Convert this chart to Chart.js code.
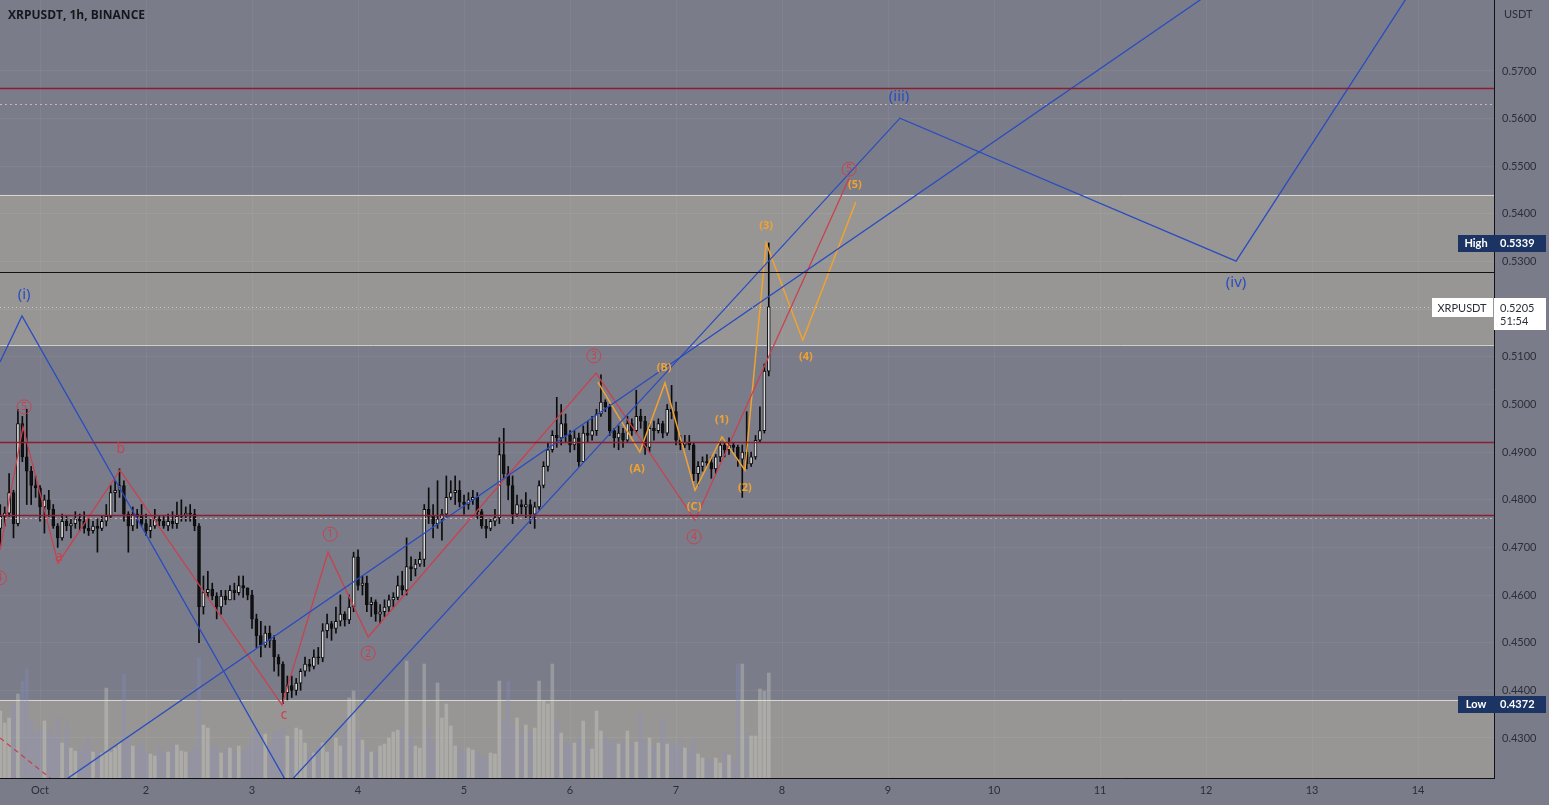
<!DOCTYPE html>
<html>
<head>
<meta charset="utf-8">
<script src="https://cdn.jsdelivr.net/npm/chart.js@4.4.0/dist/chart.umd.min.js"></script>
<style>
  html, body { margin: 0; padding: 0; background: #7a7d89; overflow: hidden; }
  #wrap { width: 1549px; height: 805px; position: relative; }
</style>
</head>
<body>
<div id="wrap"><canvas id="chart"></canvas></div>
<script>
// ********************* candles (1h, hours counted from Oct 1 00:00) ***********************
const firstHour = -9;
const firstOpen = 0.4740;

const closes = [
  0.4765, 0.4772, 0.4815, 0.4750, 0.4960, 0.4890, 0.4860, 0.4830, 0.4825,
  0.4785, 0.4800, 0.4780, 0.4745, 0.4720, 0.4755, 0.4745, 0.4750, 0.4760,
  0.4755, 0.4740, 0.4735, 0.4745, 0.4740, 0.4755, 0.4765, 0.4815, 0.4820,
  0.4830, 0.4770, 0.4745, 0.4770, 0.4765, 0.4750, 0.4735, 0.4745, 0.4760,
  0.4755, 0.4745, 0.4755, 0.4750, 0.4765, 0.4768, 0.4772, 0.4770, 0.4745,
  0.4575, 0.4605, 0.4612, 0.4598, 0.4575, 0.4598, 0.4590, 0.4610, 0.4605,
  0.4620, 0.4615, 0.4600, 0.4550, 0.4515, 0.4495, 0.4520, 0.4505, 0.4470,
  0.4455, 0.4395, 0.4410, 0.4400, 0.4415, 0.4440, 0.4455, 0.4450, 0.4470,
  0.4468, 0.4525, 0.4540, 0.4530, 0.4545, 0.4560, 0.4548, 0.4575, 0.4680,
  0.4620, 0.4625, 0.4580, 0.4585, 0.4560, 0.4565, 0.4575, 0.4590, 0.4595,
  0.4620, 0.4610, 0.4660, 0.4655, 0.4665, 0.4675, 0.4780, 0.4765, 0.4750,
  0.4760, 0.4770, 0.4805, 0.4815, 0.4820, 0.4795, 0.4790, 0.4800, 0.4805,
  0.4775, 0.4745, 0.4740, 0.4755, 0.4762, 0.4895, 0.4855, 0.4830, 0.4770,
  0.4790, 0.4785, 0.4790, 0.4770, 0.4785, 0.4830, 0.4870, 0.4905, 0.4935,
  0.4930, 0.4960, 0.4935, 0.4915, 0.4930, 0.4880, 0.4940, 0.4935, 0.4945,
  0.4980, 0.5005, 0.4995, 0.4945, 0.4930, 0.4940, 0.4925, 0.4960, 0.4945,
  0.4975, 0.4965, 0.4910, 0.4950, 0.4945, 0.4960, 0.4940, 0.4990, 0.4985,
  0.4925, 0.4915, 0.4920, 0.4915, 0.4855, 0.4870, 0.4880, 0.4878, 0.4865,
  0.4890, 0.4915, 0.4905, 0.4915, 0.4910, 0.4885, 0.4900, 0.4875, 0.4890,
  0.4925, 0.4945, 0.5070, 0.5205
];

const highs = [
  0.4790, 0.4785, 0.4855, 0.4820, 0.4990, 0.4975, 0.4990, 0.4870, 0.4850,
  0.4830, 0.4810, 0.4820, 0.4790, 0.4750, 0.4770, 0.4765, 0.4760, 0.4775,
  0.4770, 0.4775, 0.4760, 0.4755, 0.4760, 0.4765, 0.4790, 0.4830, 0.4840,
  0.4865, 0.4840, 0.4775, 0.4785, 0.4780, 0.4790, 0.4770, 0.4760, 0.4780,
  0.4765, 0.4765, 0.4770, 0.4775, 0.4795, 0.4800, 0.4785, 0.4790, 0.4780,
  0.4750, 0.4640, 0.4650, 0.4625, 0.4605, 0.4610, 0.4610, 0.4620, 0.4625,
  0.4640, 0.4640, 0.4615, 0.4610, 0.4560, 0.4545, 0.4535, 0.4535, 0.4515,
  0.4475, 0.4460, 0.4430, 0.4430, 0.4425, 0.4445, 0.4470, 0.4465, 0.4485,
  0.4490, 0.4540, 0.4560, 0.4545, 0.4575, 0.4600, 0.4565, 0.4600, 0.4690,
  0.4695, 0.4640, 0.4640, 0.4595, 0.4590, 0.4580, 0.4590, 0.4600, 0.4605,
  0.4640, 0.4650, 0.4720, 0.4680, 0.4675, 0.4690, 0.4790, 0.4825, 0.4790,
  0.4840, 0.4780, 0.4850, 0.4840, 0.4850, 0.4840, 0.4810, 0.4815, 0.4820,
  0.4815, 0.4780, 0.4760, 0.4760, 0.4780, 0.4930, 0.4950, 0.4870, 0.4850,
  0.4810, 0.4800, 0.4815, 0.4800, 0.4795, 0.4840, 0.4880, 0.4920, 0.4945,
  0.5015, 0.5000, 0.4980, 0.4945, 0.4945, 0.4940, 0.4955, 0.4965, 0.4975,
  0.4990, 0.5062, 0.5010, 0.5000, 0.4950, 0.4955, 0.4950, 0.4975, 0.4970,
  0.5030, 0.4990, 0.4975, 0.4960, 0.4965, 0.4970, 0.4965, 0.5000, 0.5040,
  0.5005, 0.4935, 0.4935, 0.4935, 0.4920, 0.4880, 0.4890, 0.4895, 0.4890,
  0.4895, 0.4925, 0.4920, 0.4930, 0.4920, 0.4915, 0.4915, 0.4985, 0.4900,
  0.4935, 0.4995, 0.5085, 0.5339
];

const lows = [
  0.4700, 0.4745, 0.4765, 0.4720, 0.4745, 0.4880, 0.4790, 0.4790, 0.4805,
  0.4755, 0.4730, 0.4765, 0.4740, 0.4700, 0.4715, 0.4735, 0.4720, 0.4740,
  0.4735, 0.4730, 0.4725, 0.4730, 0.4690, 0.4735, 0.4745, 0.4760, 0.4775,
  0.4805, 0.4755, 0.4690, 0.4735, 0.4740, 0.4745, 0.4725, 0.4720, 0.4740,
  0.4745, 0.4740, 0.4735, 0.4740, 0.4740, 0.4755, 0.4755, 0.4755, 0.4735,
  0.4500, 0.4560, 0.4595, 0.4590, 0.4550, 0.4560, 0.4580, 0.4590, 0.4590,
  0.4600, 0.4595, 0.4590, 0.4530, 0.4490, 0.4470, 0.4490, 0.4490, 0.4440,
  0.4430, 0.4372, 0.4380, 0.4385, 0.4390, 0.4400, 0.4430, 0.4440, 0.4445,
  0.4455, 0.4460, 0.4510, 0.4505, 0.4520, 0.4535, 0.4535, 0.4540, 0.4565,
  0.4610, 0.4600, 0.4565, 0.4555, 0.4545, 0.4540, 0.4555, 0.4565, 0.4575,
  0.4590, 0.4600, 0.4600, 0.4630, 0.4640, 0.4660, 0.4660, 0.4750, 0.4720,
  0.4740, 0.4715, 0.4765, 0.4800, 0.4790, 0.4785, 0.4770, 0.4780, 0.4790,
  0.4760, 0.4740, 0.4720, 0.4735, 0.4745, 0.4750, 0.4845, 0.4800, 0.4750,
  0.4765, 0.4770, 0.4760, 0.4750, 0.4740, 0.4780, 0.4825, 0.4860, 0.4900,
  0.4910, 0.4915, 0.4920, 0.4900, 0.4905, 0.4870, 0.4880, 0.4920, 0.4925,
  0.4935, 0.4975, 0.4985, 0.4935, 0.4910, 0.4905, 0.4910, 0.4920, 0.4935,
  0.4940, 0.4950, 0.4895, 0.4900, 0.4925, 0.4940, 0.4930, 0.4935, 0.4970,
  0.4915, 0.4905, 0.4910, 0.4905, 0.4840, 0.4830, 0.4860, 0.4870, 0.4845,
  0.4855, 0.4880, 0.4890, 0.4895, 0.4900, 0.4870, 0.4805, 0.4865, 0.4870,
  0.4885, 0.4920, 0.4940, 0.5060
];

// volume, millions
const volumes = [
  6.7, 5.5, 6.0, 7.4, 8.4, 9.7, 10.9, 5.7, 4.5,
  5.0, 5.7, 4.8, 4.2, 6.0, 3.5, 5.5, 3.0, 2.7,
  2.8, 3.3, 4.0, 2.6, 2.7, 2.5, 9.0, 2.6, 3.0,
  3.5, 10.4, 4.0, 3.2, 3.0, 3.5, 2.6, 2.4, 2.2,
  3.0, 2.5, 2.6, 3.2, 3.3, 2.7, 2.6, 2.5, 3.0,
  12.0, 5.3, 5.0, 3.3, 3.0, 2.5, 2.8, 3.0, 2.6,
  3.2, 2.7, 3.0, 4.2, 4.7, 3.5, 4.4, 3.3, 4.4,
  4.6, 5.0, 4.2, 3.8, 5.0, 4.8, 3.5, 2.7, 2.5,
  3.0, 3.5, 2.6, 2.8, 4.0, 3.2, 5.5, 8.0, 8.7,
  4.5, 3.8, 3.0, 2.6, 2.5, 3.2, 3.4, 4.0, 4.6,
  4.8, 5.0, 11.7, 4.2, 3.2, 3.0, 11.4, 5.0, 3.5,
  9.5, 6.0, 7.4, 5.2, 3.2, 3.0, 2.6, 3.0, 2.8,
  2.5, 2.2, 2.0, 2.5, 2.4, 9.7, 5.8, 9.7, 5.2,
  6.0, 4.5, 5.3, 4.6, 5.0, 9.7, 7.7, 7.4, 11.4,
  5.7, 4.5, 3.5, 3.4, 3.5, 4.0, 5.7, 3.2, 2.9,
  6.7, 4.7, 4.0, 3.6, 3.8, 3.4, 3.5, 4.7, 3.5,
  3.6, 6.5, 3.8, 4.0, 3.2, 3.5, 6.0, 3.4, 3.6,
  3.2, 3.7, 3.0, 2.8, 4.0, 2.4, 2.0, 1.8, 1.6,
  2.0, 1.5, 2.6, 2.3, 1.7, 11.4, 11.4, 4.4, 4.2,
  4.2, 8.9, 8.7, 10.5
];

// ********************* wave drawings [hour, price] ***********************
const blueWave = [[-9.06, 0.5089], [-4.08, 0.5186], [56.1, 0.4203], [194.7, 0.5601], [270.8, 0.5301], [317.0, 0.5962]];
const blueTrend = [[3.4, 0.4197], [267.2, 0.5878]];
const redWave = [[-9.06, 0.4695], [-3.85, 0.4953], [4.08, 0.4667], [18.1, 0.4862], [54.8, 0.4369],
                 [65.2, 0.4690], [74.3, 0.4512], [125.9, 0.5066], [148.3, 0.4757], [183.2, 0.5475]];
const redDashed = [[-9.06, 0.4300], [2.3, 0.4216]];
const orangeWave = [[126.3, 0.5047], [135.8, 0.4900], [141.5, 0.5045], [148.3, 0.4820], [154.4, 0.4932],
                    [159.6, 0.4862], [164.4, 0.5339], [172.7, 0.5135], [184.7, 0.5425]];

const blueLabels = [['(i)', -3.6, 0.5230], ['(iii)', 194.5, 0.5645], ['(iv)', 270.8, 0.5255]];
const redLabels = [['4', -9.2, 0.4636, true], ['5', -3.6, 0.4995, true], ['a', 4.3, 0.4680, false],
                   ['b', 18.3, 0.4907, false], ['c', 55.2, 0.4350, false], ['1', 65.7, 0.4728, true],
                   ['2', 74.3, 0.4478, true], ['3', 125.4, 0.5102, true], ['4', 148.1, 0.4722, true],
                   ['5', 183.2, 0.5494, true]];
const orangeLabels = [['(A)', 135.2, 0.4865], ['(B)', 141.3, 0.5077], ['(C)', 148.1, 0.4785], ['(1)', 154.4, 0.4967],
                      ['(2)', 159.6, 0.4825], ['(3)', 164.4, 0.5375], ['(4)', 173.4, 0.5100], ['(5)', 184.5, 0.5461]];

// horizontal levels and zones
const redLevels = [0.5664, 0.4921, 0.4768];
const paleLevels = [0.5631, 0.4762];
const blackLevel = 0.5278;
const lastPrice = 0.5205;
const highPrice = 0.5339;
const lowPrice = 0.4372;
const zones = [[0.5440, 0.5125], [0.4380, 0.4000]];

const priceTicks = [0.43, 0.44, 0.45, 0.46, 0.47, 0.48, 0.49, 0.50, 0.51, 0.52, 0.53, 0.54, 0.55, 0.56, 0.57];
const dayTicks = [0, 24, 48, 72, 96, 120, 144, 168, 192, 216, 240, 264, 288, 312];

// ********************* build ***********************
const wicks = [], bodies = [], vols = [], bodyColors = [], volColors = [];
closes.forEach((c, i) => {
  const h = firstHour + i;
  const o = i === 0 ? firstOpen : closes[i - 1];
  wicks.push({x: h, y: [lows[i], highs[i]]});
  bodies.push({x: h, y: [o, c]});
  bodyColors.push(c >= o ? '#dadada' : '#111111');
  vols.push({x: h, y: volumes[i]});
  volColors.push(c >= o ? 'rgba(225,225,215,0.28)' : 'rgba(135,140,205,0.28)');
});

const toPts = arr => arr.map(p => ({x: p[0], y: p[1]}));
const lineSet = (arr, color, width, dash) => ({
  type: 'line', data: toPts(arr), borderColor: color, borderWidth: width,
  borderDash: dash || [], pointRadius: 0, fill: false, tension: 0, order: 1
});

const BG = '#7a7d89';
const BLUE = '#2b4cbf';
const RED = '#c9414f';
const ORANGE = '#f2a22e';

const paint = {
  id: 'paint',
  beforeDraw(chart) {
    const ctx = chart.ctx;
    ctx.save();
    ctx.fillStyle = BG;
    ctx.fillRect(0, 0, chart.width, chart.height);
    ctx.restore();
  },
  beforeDatasetsDraw(chart) {
    const {ctx, chartArea: a, scales: {y}} = chart;
    ctx.save();
    ctx.beginPath(); ctx.rect(a.left, a.top, a.right - a.left, a.bottom - a.top); ctx.clip();
    zones.forEach(z => {
      const t = y.getPixelForValue(z[0]), b = y.getPixelForValue(z[1]);
      ctx.fillStyle = 'rgba(255,240,190,0.22)';
      ctx.fillRect(a.left, t, a.right - a.left, b - t);
      ctx.strokeStyle = 'rgba(235,235,225,0.75)';
      ctx.lineWidth = 1;
      [t, b].forEach(py => { ctx.beginPath(); ctx.moveTo(a.left, Math.round(py) + 0.5); ctx.lineTo(a.right, Math.round(py) + 0.5); ctx.stroke(); });
    });
    ctx.restore();
  },
  afterDatasetsDraw(chart) {
    const {ctx, chartArea: a, scales: {x, y}} = chart;
    ctx.save();
    ctx.beginPath(); ctx.rect(a.left, a.top, a.right - a.left, a.bottom - a.top); ctx.clip();
    const hline = (p, color, w, dash, shift) => {
      const py = Math.round(y.getPixelForValue(p)) + (shift || 0.5);
      ctx.strokeStyle = color; ctx.lineWidth = w; ctx.setLineDash(dash || []);
      ctx.beginPath(); ctx.moveTo(a.left, py); ctx.lineTo(a.right, py); ctx.stroke();
    };
    paleLevels.forEach(p => hline(p, 'rgba(240,200,200,0.7)', 1, [2, 3]));
    hline(lastPrice, 'rgba(235,235,235,0.6)', 1, [1, 3]);
    redLevels.forEach(p => hline(p, '#8a1f30', 1.6, null, 0));
    hline(blackLevel, '#111111', 1.2);
    ctx.setLineDash([]);

    // wave labels
    ctx.textAlign = 'center'; ctx.textBaseline = 'middle';
    ctx.font = '15px "Noto Sans", sans-serif';
    ctx.fillStyle = BLUE;
    blueLabels.forEach(l => ctx.fillText(l[0], x.getPixelForValue(l[1]), y.getPixelForValue(l[2])));
    redLabels.forEach(l => {
      const px = x.getPixelForValue(l[1]), py = y.getPixelForValue(l[2]);
      if (l[3]) {
        ctx.strokeStyle = RED; ctx.lineWidth = 1;
        ctx.beginPath(); ctx.arc(px, py, 7, 0, Math.PI * 2); ctx.stroke();
        ctx.font = '10px "Noto Sans", sans-serif';
      } else {
        ctx.font = '14px "Noto Sans", sans-serif';
      }
      ctx.fillStyle = RED;
      ctx.fillText(l[0], px, py + 0.5);
    });
    ctx.font = 'bold 11px "Noto Sans", sans-serif';
    ctx.fillStyle = ORANGE;
    orangeLabels.forEach(l => ctx.fillText(l[0], x.getPixelForValue(l[1]), y.getPixelForValue(l[2])));
    ctx.restore();
  },
  afterDraw(chart) {
    const {ctx, chartArea: a, scales: {y}} = chart;
    ctx.save();
    ctx.fillStyle = '#15171c';
    ctx.font = 'bold 12px "Open Sans", sans-serif';
    ctx.textAlign = 'left'; ctx.textBaseline = 'middle';
    ctx.fillText('XRPUSDT, 1h, BINANCE', 8, 16);
    ctx.font = '11px Lato, sans-serif';
    ctx.fillStyle = '#2c2f38';
    ctx.fillText('USDT', 1504, 14);

    const badge = (label, value, p) => {
      const py = Math.round(y.getPixelForValue(p));
      ctx.fillStyle = '#1c3463';
      ctx.fillRect(1458, py - 8, 36, 17);
      ctx.fillRect(a.right, py - 8, 52, 17);
      ctx.fillStyle = '#ffffff';
      ctx.font = 'bold 11px Lato, sans-serif';
      ctx.textAlign = 'center';
      ctx.fillText(label, 1476, py + 0.5);
      ctx.textAlign = 'left';
      ctx.fillText(value, a.right + 6, py + 0.5);
    };
    badge('High', highPrice.toFixed(4), highPrice);
    badge('Low', lowPrice.toFixed(4), lowPrice);

    const py = Math.round(y.getPixelForValue(lastPrice));
    ctx.fillStyle = '#ffffff';
    ctx.fillRect(1432, py - 9, 61, 19);
    ctx.fillRect(a.right, py - 9, 52, 32);
    ctx.fillStyle = '#2c2f38';
    ctx.font = '11px Lato, sans-serif';
    ctx.textAlign = 'center';
    ctx.fillText('XRPUSDT', 1462, py + 1);
    ctx.textAlign = 'left';
    ctx.fillText(lastPrice.toFixed(4), a.right + 6, py + 1);
    ctx.fillText('51:54', a.right + 6, py + 14);
    ctx.restore();
  }
};

const chart = new Chart(document.getElementById('chart'), {
  type: 'bar',
  data: {
    datasets: [
      lineSet(blueWave, BLUE, 1.3),
      lineSet(blueTrend, BLUE, 1.3),
      lineSet(redWave, RED, 1.3),
      lineSet(redDashed, RED, 1.3, [5, 4]),
      lineSet(orangeWave, ORANGE, 1.5),
      { data: bodies, backgroundColor: bodyColors, borderColor: '#0c0c0c', borderWidth: 1,
        borderSkipped: false, barThickness: 3, minBarLength: 1, grouped: false, order: 2 },
      { data: wicks, backgroundColor: '#0c0c0c', barThickness: 1, grouped: false, order: 3 },
      { data: vols, yAxisID: 'yv', backgroundColor: volColors, barThickness: 3, grouped: false, order: 4 }
    ]
  },
  options: {
    responsive: true,
    maintainAspectRatio: false,
    animation: false,
    layout: { padding: 0 },
    plugins: { legend: { display: false }, tooltip: { enabled: false } },
    scales: {
      x: {
        type: 'linear', min: -9.06, max: 329.2, offset: false,
        grid: { color: 'rgba(255,255,255,0.05)', drawTicks: false, offset: false },
        border: { color: '#111111', width: 1 },
        ticks: { color: '#2c2f38', font: { size: 11, family: 'Lato' }, padding: 6, maxRotation: 0,
                 callback: v => v === 0 ? 'Oct' : String(1 + v / 24) },
        afterBuildTicks: s => { s.ticks = dayTicks.map(v => ({value: v})); },
        afterFit: s => { s.height = 27; s.paddingLeft = 0; s.paddingRight = 0; }
      },
      y: {
        type: 'linear', position: 'right', min: 0.4216, max: 0.5849,
        grid: { color: 'rgba(255,255,255,0.06)', drawTicks: false },
        border: { color: '#111111', width: 1 },
        ticks: { color: '#2c2f38', font: { size: 11, family: 'Lato' }, padding: 8,
                 callback: v => v.toFixed(4) },
        afterBuildTicks: s => { s.ticks = priceTicks.map(v => ({value: v})); },
        afterFit: s => { s.width = 55; s.paddingTop = 0; s.paddingBottom = 0; }
      },
      yv: { type: 'linear', display: false, min: 0, max: 77.8 }
    }
  },
  plugins: [paint]
});
</script>
</body>
</html>
